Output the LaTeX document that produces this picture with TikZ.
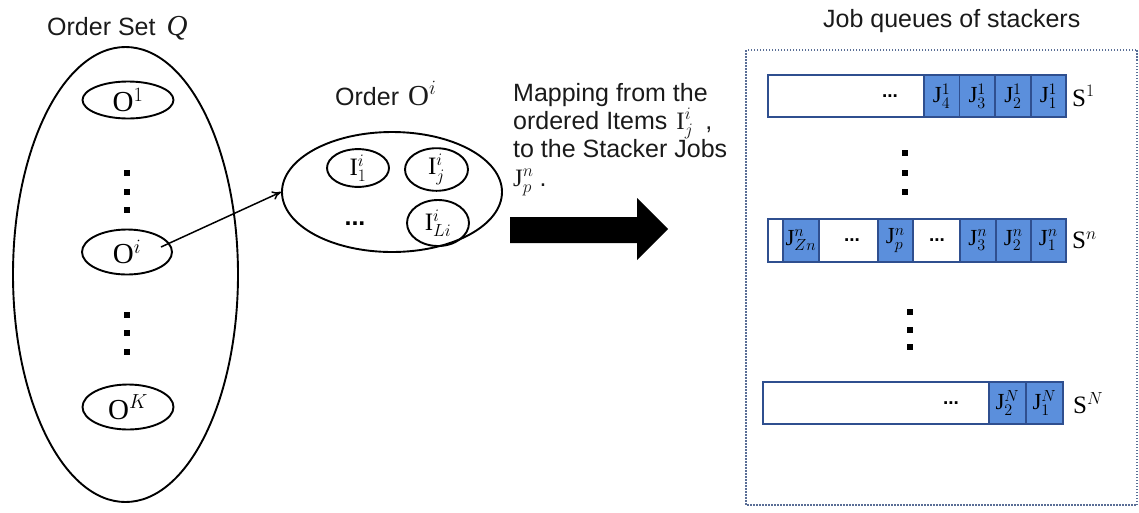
\RequirePackage{fix-cm}
\documentclass[tikz,border=0pt]{standalone}
\usepackage{fontspec}
\setmainfont{Liberation Serif}
\setsansfont{Liberation Sans}
\usetikzlibrary{shapes.geometric,arrows.meta}
\definecolor{qblue}{HTML}{5B8FDC}
\definecolor{qborder}{HTML}{2F4F8F}
\definecolor{boxdot}{HTML}{5A6E96}
\definecolor{txt}{HTML}{1A1A1A}
\newcommand{\sz}[1]{\fontsize{#1}{#1}\selectfont}
\begin{document}
\begin{tikzpicture}[x=1pt,y=-1pt,
  lbl/.style={anchor=base west, inner sep=0, text=txt, font=\sffamily\sz{25}},
  oval/.style={draw, ellipse, line width=1.9pt, inner sep=0, font=\rmfamily\sz{29}},
  ioval/.style={draw, ellipse, line width=1.9pt, inner sep=0, font=\rmfamily\sz{25}},
  dotsq/.style={rectangle, fill=black, minimum size=6.5pt, inner sep=0},
  cell/.style={draw=qborder, line width=1.8pt, fill=qblue, inner sep=0, anchor=west},
  wcell/.style={cell, fill=white},
  jlbl/.style={inner sep=0, font=\rmfamily\sz{23}},
  cdots/.style={inner sep=0, font=\sffamily\bfseries\sz{19}},
  slbl/.style={anchor=west, inner sep=0, font=\rmfamily\sz{25}}
]
\useasboundingbox (0,0) rectangle (1139,512);

% ---------- left: order set ----------
\node[lbl] (qtitle) at (47,35) {Order Set\hspace{11pt}{\rmfamily\itshape\sz{29}Q}};
\node[oval, minimum width=225pt, minimum height=455pt] (qset) at (125.5,274.5) {};
\node[oval, minimum width=91pt, minimum height=37pt] (o1) at (128,100) {O$^{1}$};
\node[dotsq] (ld1) at (127,173) {};
\node[dotsq] (ld2) at (127,192) {};
\node[dotsq] (ld3) at (127,210) {};
\node[oval, minimum width=90pt, minimum height=45pt] (oi) at (127,252) {O$^{i}$};
\node[dotsq] (ld4) at (127,315) {};
\node[dotsq] (ld5) at (127,333) {};
\node[dotsq] (ld6) at (127,352) {};
\node[oval, minimum width=91pt, minimum height=45pt] (ok) at (128,407) {O$^{K}$};

% ---------- middle: one order ----------
\node[lbl] (otitle) at (335,105) {Order\hspace{9pt}{\rmfamily\sz{29}O$^{i}$}};
\node[oval, minimum width=220pt, minimum height=120pt] (ord) at (392,192) {};
\node[ioval, minimum width=62pt, minimum height=35pt] (i1) at (358,168) {I$^{i}_{1}$};
\node[ioval, minimum width=63pt, minimum height=35pt] (ij) at (436.5,169.5) {I$^{i}_{j}$};
\node[ioval, minimum width=62pt, minimum height=46pt] (ili) at (438,223) {I$^{i}_{Li}$};
\node[inner sep=0, font=\sffamily\bfseries\sz{25}] (idots) at (355,224) {...};
\coordinate (oistart) at (161,247);
\draw[line width=1.5pt, -{To[length=9pt,width=9pt]}] (oistart) -- (ord.west);

% ---------- mapping text and big arrow ----------
\node[lbl] (m1) at (513,101) {Mapping from the};
\node[lbl] (m2) at (513,129) {ordered Items\hspace{9pt}{\rmfamily\sz{25}I$^{i}_{j}$}\hspace{12pt},};
\node[lbl] (m3) at (513,157) {to the Stacker Jobs};
\node[lbl] (m4) at (513,186) {{\rmfamily\sz{25}J$^{n}_{p}$}\hspace{6pt}.};
\coordinate (a1) at (510,217);
\coordinate (a2) at (637,217);
\coordinate (a3) at (637,198);
\coordinate (a4) at (668,229);
\coordinate (a5) at (637,260);
\coordinate (a6) at (637,243);
\coordinate (a7) at (510,243);
\fill (a1) -- (a2) -- (a3) -- (a4) -- (a5) -- (a6) -- (a7) -- cycle;

% ---------- right: job queues ----------
\node[lbl] (jtitle) at (823,27) {Job queues of stackers};
\draw[boxdot, line width=1.5pt, dash pattern=on 1.5pt off 1.5pt] (746,50) rectangle (1137,505);

% queue S1
\node[wcell, minimum width=156pt, minimum height=42pt] (r1a) at (767,96) {};
\node[cell, minimum width=35.5pt, minimum height=42pt] (r1b) at (923,96) {};
\node[cell, minimum width=35.5pt, minimum height=42pt] (r1c) at (958.5,96) {};
\node[cell, minimum width=36pt, minimum height=42pt] (r1d) at (994,96) {};
\node[cell, minimum width=35pt, minimum height=42pt] (r1e) at (1030,96) {};
\node[cdots] (r1dots) at (890,96) {...};
\node[jlbl] (t1b) at (r1b.center) {J$^{1}_{4}$};
\node[jlbl] (t1c) at (r1c.center) {J$^{1}_{3}$};
\node[jlbl] (t1d) at (r1d.center) {J$^{1}_{2}$};
\node[jlbl] (t1e) at (r1e.center) {J$^{1}_{1}$};
\node[slbl] (s1) at (1072,96) {S$^{1}$};

\node[dotsq] (rd1) at (905,153) {};
\node[dotsq] (rd2) at (905,173) {};
\node[dotsq] (rd3) at (905,192) {};

% queue Sn
\node[wcell, minimum width=15pt, minimum height=43pt] (rna) at (767,240.5) {};
\node[cell, minimum width=36pt, minimum height=43pt] (rnb) at (782,240.5) {};
\node[wcell, minimum width=59pt, minimum height=43pt] (rnc) at (818,240.5) {};
\node[cell, minimum width=35pt, minimum height=43pt] (rnd) at (877,240.5) {};
\node[wcell, minimum width=47pt, minimum height=43pt] (rne) at (912,240.5) {};
\node[cell, minimum width=36pt, minimum height=43pt] (rnf) at (959,240.5) {};
\node[cell, minimum width=35pt, minimum height=43pt] (rng) at (995,240.5) {};
\node[cell, minimum width=35pt, minimum height=43pt] (rnh) at (1030,240.5) {};
\node[jlbl] (tnb) at (rnb.center) {J$^{n}_{Zn}$};
\node[cdots] (rndots1) at (852,240.5) {...};
\node[jlbl] (tnd) at (rnd.center) {J$^{n}_{p}$};
\node[cdots] (rndots2) at (937,240.5) {...};
\node[jlbl] (tnf) at (rnf.center) {J$^{n}_{3}$};
\node[jlbl] (tng) at (rng.center) {J$^{n}_{2}$};
\node[jlbl] (tnh) at (rnh.center) {J$^{n}_{1}$};
\node[slbl] (sn) at (1072,240.5) {S$^{n}$};

\node[dotsq] (rd4) at (910,312) {};
\node[dotsq] (rd5) at (910,330) {};
\node[dotsq] (rd6) at (910,347) {};

% queue SN
\node[wcell, minimum width=226pt, minimum height=42pt] (rNa) at (762,403) {};
\node[cell, minimum width=37pt, minimum height=42pt] (rNb) at (988,403) {};
\node[cell, minimum width=37pt, minimum height=42pt] (rNc) at (1025,403) {};
\node[cdots] (rNdots) at (951,403) {...};
\node[jlbl] (tNb) at (rNb.center) {J$^{N}_{2}$};
\node[jlbl] (tNc) at (rNc.center) {J$^{N}_{1}$};
\node[slbl] (sN) at (1073,403) {S$^{N}$};
\end{tikzpicture}
\end{document}
